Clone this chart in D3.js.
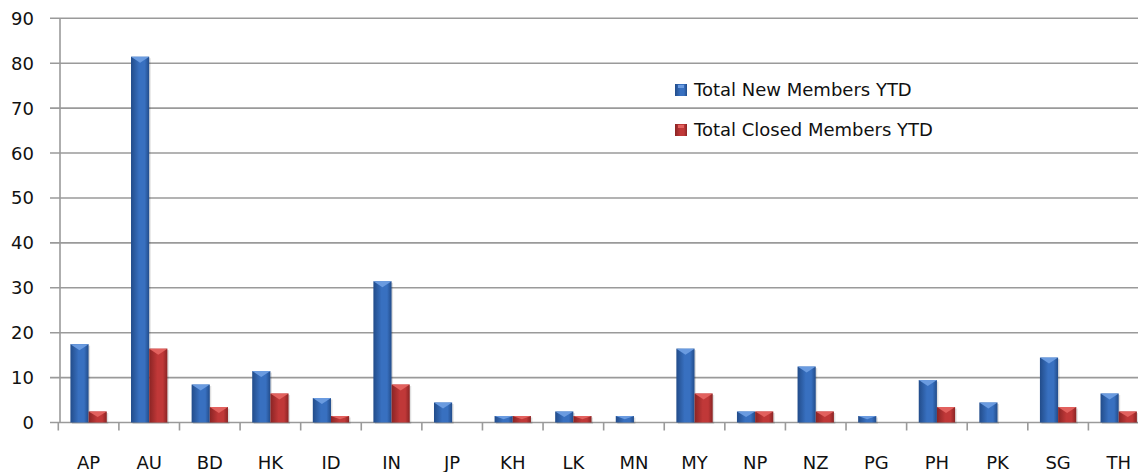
<!DOCTYPE html>
<html>
<head>
<meta charset="utf-8">
<script src="https://cdn.jsdelivr.net/npm/d3@7"></script>
<style>
  body { margin: 0; background: #fff; }
  svg text { font-family: "DejaVu Sans", Verdana, sans-serif; fill: #111; }
</style>
</head>
<body>
<div class="chart"></div>
<script>
var w = 1138,
    h = 472;

var countries = ["AP", "AU", "BD", "HK", "ID", "IN", "JP", "KH", "LK", "MN", "MY", "NP", "NZ", "PG", "PH", "PK", "SG", "TH"];
var newMembers = [17, 81, 8, 11, 5, 31, 4, 1, 2, 1, 16, 2, 12, 1, 9, 4, 14, 6];
var closedMembers = [2, 16, 3, 6, 1, 8, 0, 1, 1, 0, 6, 2, 2, 0, 3, 0, 3, 2];
var seriesNames = ["Total New Members YTD", "Total Closed Members YTD"];
var yTicks = [0, 10, 20, 30, 40, 50, 60, 70, 80, 90];

var colors = [
  { dark: "#224c8a", mid: "#3870c0", light: "#6a9be0" },
  { dark: "#8a2424", mid: "#c03838", light: "#e2615e" }
];

var svg = d3.select(".chart").append("svg")
  .attr("width", w)
  .attr("height", h);

var defs = svg.append("defs");
colors.forEach(function(c, i) {
  var g = defs.append("linearGradient")
    .attr("id", "grad" + i)
    .attr("x1", "0%").attr("x2", "100%").attr("y1", "0%").attr("y2", "0%");
  g.append("stop").attr("offset", "0%").attr("stop-color", c.dark);
  g.append("stop").attr("offset", "45%").attr("stop-color", c.mid);
  g.append("stop").attr("offset", "75%").attr("stop-color", c.mid);
  g.append("stop").attr("offset", "100%").attr("stop-color", c.dark);
});

var y = d3.scaleLinear()
  .domain([0, 90])
  .range([422.5, 18.3]);

var x = d3.scaleBand()
  .domain(countries)
  .range([58.3, 1149])
  .paddingInner(0)
  .paddingOuter(0);

var inner = d3.scaleBand()
  .domain([0, 1])
  .range([x.bandwidth() * 0.2, x.bandwidth() * 0.8]);

// gridlines
svg.append("g")
  .selectAll("line")
  .data(yTicks)
  .enter()
  .append("line")
  .attr("x1", 50)
  .attr("x2", w)
  .attr("y1", function(d) { return y(d); })
  .attr("y2", function(d) { return y(d); })
  .style("stroke", "#9a9a9a")
  .style("stroke-width", 1.6);

// y axis line
svg.append("line")
  .attr("x1", 60).attr("x2", 60)
  .attr("y1", y(90)).attr("y2", y(0))
  .style("stroke", "#9a9a9a")
  .style("stroke-width", 1.6);

// y labels
svg.append("g")
  .selectAll("text")
  .data(yTicks)
  .enter()
  .append("text")
  .attr("x", 34)
  .attr("y", function(d) { return y(d); })
  .attr("dy", "0.36em")
  .attr("text-anchor", "end")
  .style("font-size", "18px")
  .text(function(d) { return d; });

// x tick marks
svg.append("g")
  .selectAll("line")
  .data(countries)
  .enter()
  .append("line")
  .attr("x1", function(d) { return x(d); })
  .attr("x2", function(d) { return x(d); })
  .attr("y1", y(0))
  .attr("y2", y(0) + 8)
  .style("stroke", "#9a9a9a")
  .style("stroke-width", 1.6);

// x labels
svg.append("g")
  .selectAll("text")
  .data(countries)
  .enter()
  .append("text")
  .attr("x", function(d) { return x(d) + x.bandwidth() / 2; })
  .attr("y", 469)
  .attr("text-anchor", "middle")
  .style("font-size", "18px")
  .text(function(d) { return d; });

// bars
var data = countries.map(function(c, i) {
  return { country: c, values: [newMembers[i], closedMembers[i]] };
});

var depth = 2; // bevel cap

var groups = svg.append("g")
  .selectAll("g")
  .data(data)
  .enter()
  .append("g")
  .attr("transform", function(d) { return "translate(" + x(d.country) + ",0)"; });

groups.selectAll("g.bar")
  .data(function(d) {
    return d.values.map(function(v, s) { return { v: v, s: s }; })
      .filter(function(b) { return b.v > 0; });
  })
  .enter()
  .append("g")
  .attr("class", "bar")
  .each(function(b) {
    var g = d3.select(this);
    var bx = inner(b.s),
        bw = inner.bandwidth(),
        top = y(b.v) - depth,
        bottom = y(0);
    // shadow
    g.append("rect")
      .attr("x", bx + 1.5).attr("y", top + 1.5)
      .attr("width", bw).attr("height", bottom - top)
      .style("fill", "#000").style("opacity", 0.12);
    g.append("rect")
      .attr("x", bx).attr("y", top)
      .attr("width", bw).attr("height", bottom - top)
      .style("fill", "url(#grad" + b.s + ")");
    // top bevel
    var capH = Math.min(6, (bottom - top) / 2);
    g.append("path")
      .attr("d", "M" + bx + "," + top + "L" + (bx + bw) + "," + top +
                 "L" + (bx + bw * 0.5) + "," + (top + capH) + "Z")
      .style("fill", colors[b.s].light);
  });

// legend
var legend = svg.append("g")
  .selectAll("g")
  .data(seriesNames)
  .enter()
  .append("g")
  .attr("transform", function(d, i) { return "translate(675," + (90 + i * 40) + ")"; });

legend.append("rect")
  .attr("x", 0).attr("y", -6)
  .attr("width", 12).attr("height", 12)
  .style("fill", function(d, i) { return "url(#grad" + i + ")"; });

legend.append("rect")
  .attr("x", 3).attr("y", -5)
  .attr("width", 6).attr("height", 3)
  .style("fill", function(d, i) { return colors[i].light; });

legend.append("text")
  .attr("x", 19)
  .attr("y", 0)
  .attr("dy", "0.36em")
  .style("font-size", "18px")
  .text(function(d) { return d; });
</script>
</body>
</html>
